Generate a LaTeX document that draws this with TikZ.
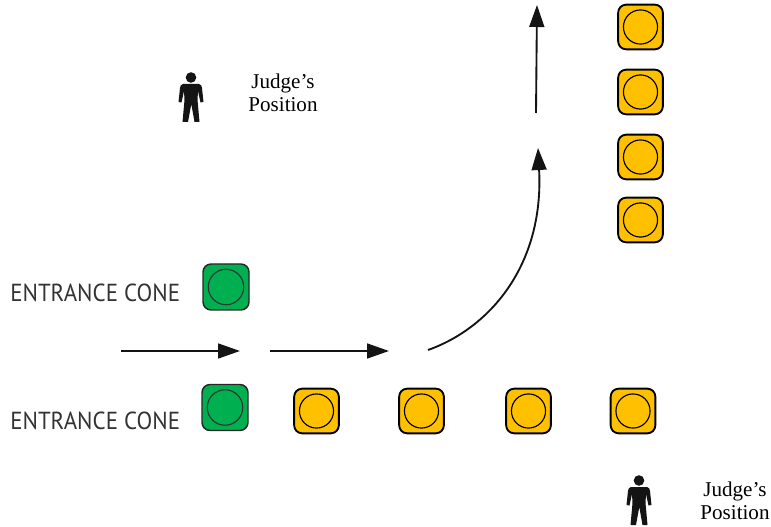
\documentclass[tikz,border=0pt]{standalone}
\usepackage{fontspec}
\setmainfont{Liberation Serif}
\newfontfamily\labelfont{PT Sans}
\usetikzlibrary{arrows.meta}
\definecolor{coneyellow}{RGB}{255,192,0}
\definecolor{conegreen}{RGB}{0,176,80}
\definecolor{inkblack}{RGB}{20,20,20}
\tikzset{
  x=0.75pt,y=-0.75pt,
  yellowcone/.style={draw=black,line width=1.4pt,fill=coneyellow,rounded corners=6pt,minimum size=33.5pt,inner sep=0pt,
    path picture={\draw[line width=0.85pt] (path picture bounding box.center) circle[radius=12.8pt];}},
  greencone/.style={draw=black!85,line width=1.1pt,fill=conegreen,rounded corners=6pt,minimum size=34.5pt,inner sep=0pt,
    path picture={\draw[black!80,line width=0.85pt] (path picture bounding box.center) circle[radius=13.3pt];}},
  flow/.style={draw=inkblack,line width=1.4pt,-{Stealth[length=16.5pt,width=11.2pt,inset=0pt]}},
  judgelabel/.style={font=\fontsize{15.8pt}{17pt}\selectfont,align=center,text=black,inner sep=0pt},
  conelabel/.style={font=\labelfont\fontsize{18.5pt}{19pt}\selectfont,text=black!80,inner sep=0pt,anchor=west},
  person/.pic={
    \fill[inkblack] (0,-19.5) circle[radius=5.3];
    \fill[inkblack] (-8,-13) -- (8,-13) .. controls (10,-12.5) and (11,-11) .. (11,-9)
      -- (12.5,5) -- (9.5,5.5) -- (7,-6) -- (6.5,3) -- (8.5,25) -- (3.5,25) -- (0.3,7) -- (-3,25) -- (-8.5,25)
      -- (-6.5,3) -- (-7,-6) -- (-9.5,5.5) -- (-12.5,5) -- (-11,-9) .. controls (-11,-11) and (-10,-12.5) .. (-8,-13) -- cycle;
  }
}
\begin{document}
\begin{tikzpicture}
\useasboundingbox (0,0) rectangle (771,527);

% cones
\node[greencone] (g1) at (226,287) {};
\node[greencone] (g2) at (225,407.5) {};
\node[yellowcone] (y1) at (316.5,411) {};
\node[yellowcone] (y2) at (421.5,411) {};
\node[yellowcone] (y3) at (528.5,411) {};
\node[yellowcone] (y4) at (633,411) {};
\node[yellowcone] (u1) at (640.5,27) {};
\node[yellowcone] (u2) at (640.5,92) {};
\node[yellowcone] (u3) at (640.5,157) {};
\node[yellowcone] (u4) at (640.5,220) {};

% labels
\node[conelabel] (e1) at (10,293) {\scalebox{0.93}[1]{ENTRANCE CONE}};
\node[conelabel] (e2) at (10,421) {\scalebox{0.93}[1]{ENTRANCE CONE}};
\node[judgelabel] (j1) at (283,92.5) {Judge’s\\Position};
\node[judgelabel] (j2) at (735,501) {Judge’s\\Position};

% judges
\pic at (191,97) {person};
\pic at (639,500) {person};

% arrows
\coordinate (a1s) at (121,351);
\coordinate (a1e) at (240,351);
\coordinate (a2s) at (270,351);
\coordinate (a2e) at (389,351);
\coordinate (a3s) at (428,350);
\coordinate (a3e) at (538,148);
\coordinate (a4s) at (536,113);
\coordinate (a4e) at (537,5);
\draw[flow] (a1s) -- (a1e);
\draw[flow] (a2s) -- (a2e);
\draw[flow] (a3s) .. controls (490,328) and (544,265) .. (a3e);
\draw[flow] (a4s) -- (a4e);
\end{tikzpicture}
\end{document}
